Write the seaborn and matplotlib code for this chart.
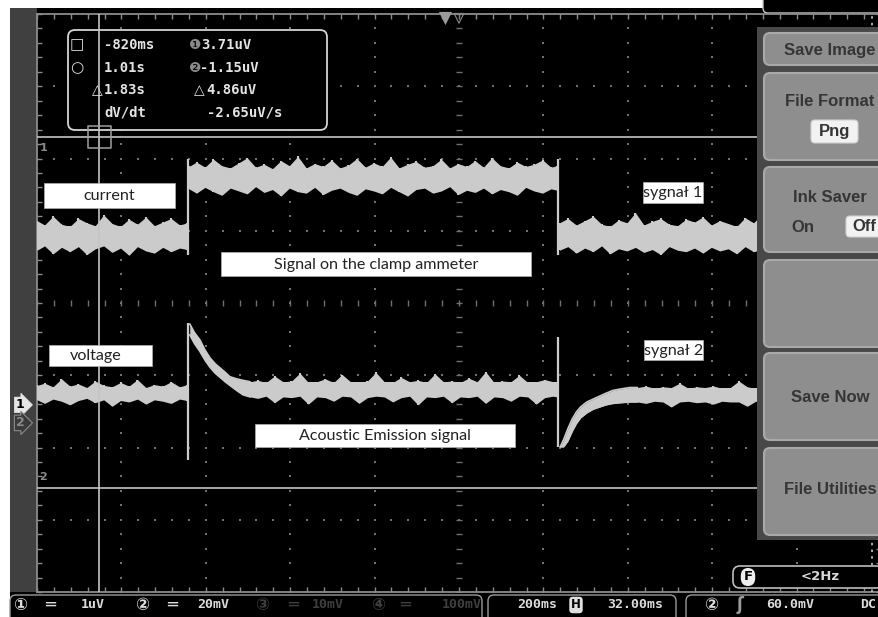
import numpy as np
import matplotlib
matplotlib.use("Agg")
import matplotlib.pyplot as plt
import matplotlib.transforms as mtransforms
from matplotlib.patches import Rectangle, FancyBboxPatch
import seaborn as sns

# ---- values ----
# time in ms (200 ms/div, position 32 ms); amplitude in CH1 divisions (1 uV/div)
cur_a_t = [-968, -950, -930, -910, -890, -870, -850, -830, -810, -790, -770, -750, -730, -710, -690, -670, -650, -630, -612]
cur_a_hi = [2.55, 2.49, 2.61, 2.50, 2.47, 2.58, 2.52, 2.48, 2.63, 2.51, 2.47, 2.57, 2.50, 2.60, 2.48, 2.53, 2.58, 2.49, 2.52]
cur_a_lo = [2.14, 2.20, 2.09, 2.18, 2.12, 2.19, 2.08, 2.16, 2.20, 2.11, 2.17, 2.07, 2.19, 2.13, 2.10, 2.18, 2.12, 2.17, 2.15]

cur_b_t = [-608, -590, -570, -550, -530, -510, -490, -470, -450, -430, -410, -390, -370, -350, -330,
           -310, -290, -270, -250, -230, -210, -190, -170, -150, -130, -110, -90, -70, -50, -30,
           -10, 10, 30, 50, 70, 90, 110, 130, 150, 170, 190, 210, 230, 250, 265]
cur_b_hi = [3.30, 3.36, 3.29, 3.40, 3.31, 3.28, 3.35, 3.42, 3.29, 3.33, 3.27, 3.38, 3.31, 3.44, 3.28,
            3.34, 3.30, 3.39, 3.28, 3.32, 3.41, 3.29, 3.35, 3.30, 3.43, 3.28, 3.33, 3.37, 3.29, 3.31,
            3.40, 3.28, 3.34, 3.30, 3.38, 3.29, 3.42, 3.31, 3.28, 3.36, 3.30, 3.33, 3.39, 3.29, 3.31]
cur_b_lo = [2.99, 2.93, 3.01, 2.95, 2.90, 3.00, 2.96, 2.92, 3.02, 2.94, 2.98, 2.89, 3.00, 2.95, 2.93,
            3.01, 2.91, 2.97, 3.00, 2.94, 2.90, 2.99, 2.96, 2.92, 3.01, 2.95, 2.89, 2.98, 3.00, 2.93,
            2.96, 3.02, 2.91, 2.97, 2.94, 3.00, 2.92, 2.98, 2.95, 2.90, 3.01, 2.96, 2.93, 2.99, 2.97]

cur_c_t = [270, 290, 310, 330, 350, 370, 390, 410, 430, 450, 470, 490, 510, 530, 550, 570, 590, 610, 630, 650,
           670, 690, 710, 730, 750, 770, 790, 810, 830, 850, 870, 890, 910, 930, 950, 970, 990, 1010, 1030]
cur_c_hi = [2.52, 2.58, 2.49, 2.55, 2.61, 2.50, 2.47, 2.56, 2.52, 2.66, 2.49, 2.54, 2.58, 2.50, 2.48, 2.57, 2.53, 2.60, 2.49, 2.55,
            2.51, 2.47, 2.59, 2.52, 2.64, 2.50, 2.56, 2.48, 2.53, 2.58, 2.50, 2.55, 2.49, 2.57, 2.52, 2.60, 2.48, 2.54, 2.51]
cur_c_lo = [2.14, 2.19, 2.10, 2.17, 2.12, 2.20, 2.09, 2.16, 2.13, 2.18, 2.11, 2.15, 2.08, 2.19, 2.14, 2.12, 2.17, 2.10, 2.18, 2.13,
            2.16, 2.09, 2.19, 2.12, 2.15, 2.11, 2.18, 2.14, 2.09, 2.17, 2.13, 2.19, 2.11, 2.16, 2.12, 2.18, 2.10, 2.15, 2.14]

volt_a_t = cur_a_t
volt_a_hi = [0.27, 0.30, 0.25, 0.36, 0.26, 0.29, 0.24, 0.33, 0.27, 0.25, 0.31, 0.26, 0.35, 0.24, 0.28, 0.26, 0.32, 0.25, 0.28]
volt_a_lo = [0.07, 0.02, 0.08, 0.05, 0.00, 0.06, 0.09, 0.03, 0.07, -0.02, 0.06, 0.04, 0.08, 0.01, 0.07, 0.05, 0.02, 0.08, 0.06]

volt_b_t = [-606, -595, -582, -570, -558, -546, -534, -522, -511, -495, -480, -463]
volt_b_hi = [1.12, 1.00, 0.90, 0.76, 0.65, 0.57, 0.51, 0.45, 0.39, 0.36, 0.34, 0.32]
volt_b_lo = [0.97, 0.85, 0.74, 0.62, 0.52, 0.44, 0.38, 0.32, 0.27, 0.20, 0.14, 0.11]

volt_c_t = [-463, -445, -425, -405, -385, -365, -345, -325, -305, -285, -265, -245, -225, -205, -185, -165, -145, -125, -105,
            -85, -65, -45, -25, -5, 15, 35, 55, 75, 95, 115, 135, 155, 175, 195, 215, 235, 255, 265]
volt_c_hi = [0.32, 0.34, 0.31, 0.40, 0.32, 0.33, 0.44, 0.31, 0.32, 0.36, 0.31, 0.42, 0.32, 0.31, 0.33, 0.45, 0.32, 0.31, 0.38,
             0.32, 0.34, 0.31, 0.43, 0.32, 0.33, 0.31, 0.37, 0.32, 0.46, 0.31, 0.33, 0.32, 0.41, 0.31, 0.32, 0.35, 0.32, 0.31]
volt_c_lo = [0.11, 0.09, 0.12, 0.03, 0.11, 0.10, 0.12, 0.01, 0.11, 0.10, 0.05, 0.12, 0.11, 0.02, 0.10, 0.12, 0.11, 0.04, 0.10,
             0.12, 0.00, 0.11, 0.10, 0.12, 0.03, 0.11, 0.10, 0.12, 0.02, 0.11, 0.10, 0.05, 0.12, 0.11, 0.01, 0.10, 0.12, 0.11]

volt_d_t = [272, 280, 290, 300, 310, 320, 335, 350, 365, 380, 397, 415, 437, 455]
volt_d_hi = [-0.58, -0.48, -0.33, -0.20, -0.10, -0.03, 0.04, 0.08, 0.12, 0.16, 0.20, 0.22, 0.24, 0.24]
volt_d_lo = [-0.58, -0.58, -0.50, -0.37, -0.26, -0.18, -0.11, -0.06, -0.03, 0.00, 0.02, 0.03, 0.04, 0.04]

volt_e_t = [455, 475, 495, 515, 535, 555, 575, 595, 615, 635, 655, 675, 695, 715, 735,
            755, 775, 795, 815, 835, 855, 875, 895, 915, 935, 955, 975, 995, 1015, 1035]
volt_e_hi = [0.24, 0.26, 0.23, 0.25, 0.24, 0.30, 0.23, 0.25, 0.24, 0.26, 0.23, 0.24, 0.33, 0.25, 0.23,
             0.24, 0.26, 0.24, 0.23, 0.25, 0.24, 0.29, 0.23, 0.25, 0.24, 0.26, 0.23, 0.24, 0.25, 0.24]
volt_e_lo = [0.04, 0.02, 0.05, 0.04, -0.03, 0.04, 0.05, 0.03, 0.04, 0.01, 0.05, 0.04, 0.04, -0.02, 0.05,
             0.04, 0.03, 0.05, 0.00, 0.04, 0.05, 0.04, -0.03, 0.04, 0.05, 0.03, 0.04, -0.01, 0.05, 0.04]

# switching edges (ms) and their vertical extent
edge_t = [-610, 267]
cur_edge_lo = [2.08, 2.08]
cur_edge_hi = [3.40, 3.40]
volt_edge_lo = [-0.76, -0.58]
volt_edge_hi = [1.13, 0.94]

# cursors
cursor_t = [-820, 1010]
cursor_v = [3.71, -1.15]
readout_time = ["-820ms", "1.01s", "1.83s", "dV/dt"]
readout_volt = ["3.71uV", "-1.15uV", "4.86uV", "-2.65uV/s"]
ch_ground = [0.0, -0.25]

labels = ["current", "voltage", "Signal on the clamp ammeter", "Acoustic Emission signal", "sygnał 1", "sygnał 2"]
menu_labels = ["Save Image", "File Format", "Ink Saver", "", "Save Now", "File Utilities"]

sns.set_style("dark")
plt.rcParams["font.family"] = ["DejaVu Sans"]

W, H = 879, 617
fig = plt.figure(figsize=(W / 100, H / 100), dpi=100, facecolor="white")

# background in pixel coordinates
bg = fig.add_axes([0, 0, 1, 1], zorder=-1)
bg.set_xlim(0, W)
bg.set_ylim(H, 0)
bg.axis("off")
px = bg.transData
bg.add_patch(Rectangle((10, 8), W - 10, H - 8, fc="black", ec="none"))
bg.add_patch(Rectangle((10, 8), 27, 584, fc="#404040", ec="none"))
bg.add_patch(FancyBboxPatch((763, -20), 140, 33, boxstyle="round,pad=0,rounding_size=5",
                            fc="black", ec="#c8c8c8", lw=1))

# scope screen
ax = fig.add_axes([37 / W, (H - 592) / H, 844 / W, 578 / H])
ax.set_facecolor("black")
ax.grid(False)
x0, x1 = -968, 1032
y0, y1 = -2.59, 5.41
xmaj = x0 + 200 * np.arange(11)
ymaj = y0 + np.arange(9)
xmin = x0 + 40 * np.arange(51)
ymin = y0 + 0.2 * np.arange(41)

dot = "#707070"
for i in range(1, 10):
    if i == 5:
        continue
    ax.scatter(np.full(ymin.size, xmaj[i]), ymin, s=2.2, marker="s", c=dot, linewidths=0, zorder=1)
for j in range(1, 8):
    if j == 4:
        continue
    ax.scatter(xmin, np.full(xmin.size, ymaj[j]), s=2.2, marker="s", c=dot, linewidths=0, zorder=1)
ax.scatter(np.full(ymin.size, xmaj[5]), ymin, s=14, marker="_", c=dot, linewidths=1, zorder=1)
ax.scatter(xmin, np.full(xmin.size, ymaj[4]), s=14, marker="|", c=dot, linewidths=1, zorder=1)

for sp in ax.spines.values():
    sp.set_color("#8c8c8c")
    sp.set_linewidth(1.3)
ax.set_xticks(xmaj)
ax.set_xticks(xmin, minor=True)
ax.set_yticks(ymaj)
ax.set_yticks(ymin, minor=True)
ax.tick_params(which="both", direction="in", length=3.5, width=1, color="#8c8c8c",
               top=True, right=True, bottom=True, left=True,
               labelbottom=False, labelleft=False)

# traces
trace = "#cbcbcb"


def noisy_band(t, lo, hi):
    # jagged envelope filled, plus a thin spike at every sample
    ax.fill_between(t, lo, hi, color=trace, lw=0, zorder=3)
    ax.fill_between([t[0], t[-1]], max(lo), min(hi), color=trace, lw=0, zorder=3)
    ax.vlines(t, lo, hi, color=trace, lw=1.5, zorder=3)


def smooth_band(t, lo, hi):
    ax.fill_between(t, lo, hi, color=trace, lw=0, zorder=3)
    sns.lineplot(x=t, y=hi, ax=ax, color=trace, lw=1.2, zorder=3)
    sns.lineplot(x=t, y=lo, ax=ax, color=trace, lw=1.2, zorder=3)


noisy_band(cur_a_t, cur_a_lo, cur_a_hi)
noisy_band(cur_b_t, cur_b_lo, cur_b_hi)
noisy_band(cur_c_t, cur_c_lo, cur_c_hi)
noisy_band(volt_a_t, volt_a_lo, volt_a_hi)
smooth_band(volt_b_t, volt_b_lo, volt_b_hi)
noisy_band(volt_c_t, volt_c_lo, volt_c_hi)
smooth_band(volt_d_t, volt_d_lo, volt_d_hi)
noisy_band(volt_e_t, volt_e_lo, volt_e_hi)
ax.vlines(edge_t, cur_edge_lo, cur_edge_hi, color=trace, lw=1.6, zorder=3)
ax.vlines(edge_t, volt_edge_lo, volt_edge_hi, color=trace, lw=1.6, zorder=3)

# cursors
cur_col = "#c4c4c4"
ax.axvline(cursor_t[0], color=cur_col, lw=1.2, zorder=4)
ax.axvline(cursor_t[1], color=cur_col, lw=1.2, ls=(0, (1.5, 2.5)), zorder=4)
for v in cursor_v:
    ax.axhline(v, color=cur_col, lw=1.2, zorder=4)
ax.scatter([cursor_t[0]], [cursor_v[0]], marker="s", s=260, facecolors="none",
           edgecolors="#a0a0a0", linewidths=1.1, zorder=4)
ax.text(x0 + 6, cursor_v[0] - 0.08, "1", ha="left", va="top", fontsize=8, fontweight="bold", color="#8a8a8a", zorder=4)
ax.text(x0 + 6, cursor_v[1] + 0.08, "2", ha="left", va="bottom", fontsize=8, fontweight="bold", color="#8a8a8a", zorder=4)

# trigger position markers on top edge
ax.scatter([0], [y1 - 0.06], marker="v", s=90, c="#9a9a9a", linewidths=0, zorder=5, clip_on=False)
ax.scatter([32], [y1 - 0.06], marker="v", s=50, facecolors="none", edgecolors="#8a8a8a",
           linewidths=0.8, zorder=5, clip_on=False)

# channel ground markers in the left strip
blend = mtransforms.blended_transform_factory(px, ax.transData)
ax.text(20, ch_ground[0], "1", transform=blend, ha="center", va="center", fontsize=9, fontweight="bold",
        color="black", zorder=8, clip_on=False,
        bbox=dict(boxstyle="rarrow,pad=0.1", fc="#e6e6e6", ec="#e6e6e6", lw=0.5))
ax.text(20, ch_ground[1], "2", transform=blend, ha="center", va="center", fontsize=9, fontweight="bold",
        color="#8a8a8a", zorder=8, clip_on=False,
        bbox=dict(boxstyle="rarrow,pad=0.1", fc="#3a3a3a", ec="#8a8a8a", lw=0.8))

# measurement box
ax.add_patch(FancyBboxPatch((68, 30), 259, 100, boxstyle="round,pad=0,rounding_size=7", transform=px,
                            fc="black", ec="#d4d4d4", lw=1.3, zorder=2, clip_on=False))
mono = dict(family="DejaVu Sans Mono", fontweight="bold", color="#e4e4e4", fontsize=10,
            transform=px, va="center", zorder=5)
sym = dict(family="DejaVu Sans", color="#e4e4e4", transform=px, va="center", ha="center", zorder=5)
rows_y = [45, 68, 90, 113]
ax.text(77, rows_y[0], "□", fontsize=11, **sym)
ax.text(77, rows_y[1], "○", fontsize=11, **sym)
ax.text(97, rows_y[2], "△", fontsize=10, **sym)
ax.text(199, rows_y[2], "△", fontsize=10, **sym)
ax.text(195, rows_y[0], "❶", fontsize=10, **{**sym, "color": "#8a8a8a"})
ax.text(195, rows_y[1], "❷", fontsize=10, **{**sym, "color": "#8a8a8a"})
for yy, s in zip(rows_y, readout_time):
    ax.text(104, yy, s, ha="left", **mono)
vx = [201, 200, 206, 207]
for yy, xx, s in zip(rows_y, vx, readout_volt):
    ax.text(xx, yy, s, ha="left", **mono)

# annotation boxes
boxes = [(44, 183, 131, 25), (49, 345, 103, 21), (221, 252, 310, 24),
         (255, 424, 260, 23), (643, 182, 60, 21), (644, 340, 59, 20)]
text_dx = [0, -5, 0, 0, 0, 0]
for (bx, by, bw, bh), lab, dx in zip(boxes, labels, text_dx):
    ax.add_patch(Rectangle((bx, by), bw, bh, transform=px, fc="white", ec="#b0b0b0", lw=0.5,
                           zorder=8, clip_on=False))
    ax.text(bx + bw / 2 + dx, by + bh / 2 + 0.5, lab, transform=px, ha="center", va="center",
            family=["Lato", "DejaVu Sans"], fontsize=11.6, color="#222222", zorder=9)

# side menu
ax.add_patch(Rectangle((757, 27), 130, 513, transform=px, fc="#484848", ec="none", zorder=7, clip_on=False))
btn_y = [(33, 65), (73, 160), (167, 252), (260, 347), (353, 440), (448, 535)]
menu_font = dict(family="Liberation Sans", fontweight="bold", fontsize=12, color="#353535",
                 transform=px, ha="center", va="center", zorder=9)
for (ya, yb), lab in zip(btn_y, menu_labels):
    ax.add_patch(FancyBboxPatch((764, ya), 130, yb - ya, boxstyle="round,pad=0,rounding_size=6", transform=px,
                                fc="#8e8e8e", ec="#a9a9a9", lw=1.5, zorder=8, clip_on=False))
btn_text_y = [50, 101, 198, None, 397, 489]
for yy, lab in zip(btn_text_y, menu_labels):
    if lab:
        ax.text(830, yy, lab, **menu_font)
ax.add_patch(FancyBboxPatch((811, 120), 47, 23, boxstyle="round,pad=0,rounding_size=4", transform=px,
                            fc="#f2f2f2", ec="#d0d0d0", lw=0.8, zorder=9, clip_on=False))
ax.text(834.5, 131.5, "Png", **{**menu_font, "zorder": 10})
ax.text(803, 227, "On", **menu_font)
ax.add_patch(FancyBboxPatch((846, 216), 40, 21, boxstyle="round,pad=0,rounding_size=4", transform=px,
                            fc="#f2f2f2", ec="#d0d0d0", lw=0.8, zorder=9, clip_on=False))
ax.text(864, 226.5, "Off", **{**menu_font, "zorder": 10})

# filter box
ax.add_patch(FancyBboxPatch((733, 566), 150, 22, boxstyle="round,pad=0,rounding_size=7", transform=px,
                            fc="black", ec="#bdbdbd", lw=1.2, zorder=8, clip_on=False))
ax.text(748, 577, "F", transform=px, ha="center", va="center", fontsize=9.5, fontweight="bold",
        color="black", zorder=9, bbox=dict(boxstyle="round,pad=0.2,rounding_size=0.6", fc="#eeeeee", ec="none"))
ax.text(820, 577, "<2Hz", transform=px, ha="center", va="center", fontsize=9.5, fontweight="bold",
        family="DejaVu Sans", color="#d8d8d8", zorder=9)

# bottom status bar
for bx0, bx1 in [(10, 482), (488, 676), (686, 890)]:
    ax.add_patch(FancyBboxPatch((bx0, 595), bx1 - bx0, 30, boxstyle="round,pad=0,rounding_size=6", transform=px,
                                fc="black", ec="#9a9a9a", lw=1.0, zorder=8, clip_on=False))
bright, dim = "#dcdcdc", "#3e3e3e"
bar = [(20, "①", bright, "sym"), (50, "═", bright, "sym"), (93, "1uV", bright, "mono"),
       (142, "②", bright, "sym"), (172, "═", bright, "sym"), (213, "20mV", bright, "mono"),
       (262, "③", dim, "sym"), (293, "═", dim, "sym"), (328, "10mV", dim, "mono"),
       (378, "④", dim, "sym"), (405, "═", dim, "sym"), (462, "100mV", dim, "mono"),
       (537, "200ms", bright, "mono"), (635, "32.00ms", bright, "mono"),
       (711, "②", bright, "sym"), (740, "ʃ", "#9a9a9a", "sym"), (790, "60.0mV", bright, "mono"),
       (868, "DC", bright, "mono")]
for xx, s, col, kind in bar:
    if kind == "mono":
        ax.text(xx, 605, s, transform=px, ha="center", va="center", family="DejaVu Sans Mono",
                fontweight="bold", fontsize=9.5, color=col, zorder=9)
    else:
        ax.text(xx, 605, s, transform=px, ha="center", va="center", family="DejaVu Sans",
                fontweight="bold", fontsize=12, color=col, zorder=9)
ax.text(576, 605, "H", transform=px, ha="center", va="center", fontsize=8.5, fontweight="bold",
        color="black", zorder=9, bbox=dict(boxstyle="round,pad=0.15,rounding_size=0.3", fc="#e0e0e0", ec="none"))

ax.set_xlim(x0, x1)
ax.set_ylim(y0, y1)
ax.set_xlabel("")
ax.set_ylabel("")

fig.savefig("out.png", dpi=100, facecolor="white")
